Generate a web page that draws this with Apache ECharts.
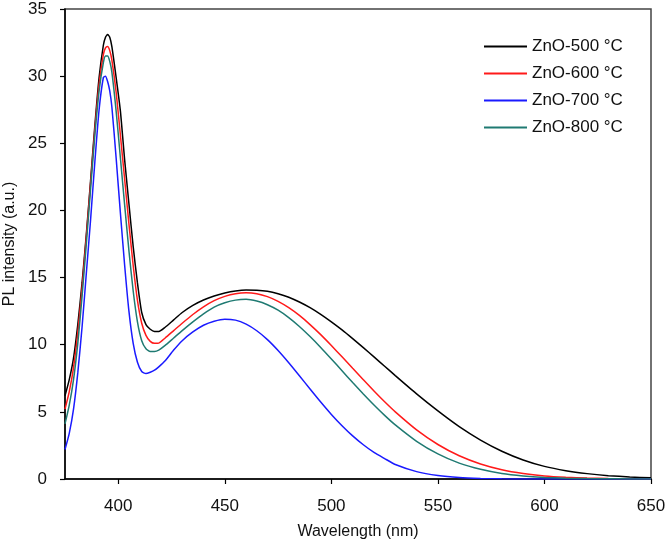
<!DOCTYPE html>
<html>
<head>
<meta charset="utf-8">
<script src="https://cdn.jsdelivr.net/npm/echarts@6/dist/echarts.min.js"></script>
<style>
html,body{margin:0;padding:0;background:#fff;}
#chart{width:666px;height:546px;}
</style>
</head>
<body>
<div id="chart"></div>
<script>
const wavelength = [375,377,379,381,383,385,387,389,391,393,394,395,396,397,399,401,403,405,407,409,411,413,415,417,419,422,426,430,435,440,445,450,455,460,465,470,475,480,485,490,495,500,505,510,515,520,525,530,540,550,560,570,580,590,600,610,620,630,640,650];

const zno500 = [6.2,7.4,9.0,11.5,14.6,18.2,22.2,26.3,29.9,32.3,
  32.9,33.1,32.9,32.2,29.9,27.4,23.75,20.5,17.3,14.6,
  12.4,11.5,11.15,10.98,10.98,11.3,11.85,12.4,12.93,13.33,
  13.63,13.85,14.0,14.07,14.06,13.98,13.8,13.54,13.18,12.76,
  12.26,11.7,11.1,10.45,9.78,9.09,8.4,7.7,6.34,5.07,
  3.9,2.9,2.07,1.42,0.94,0.62,0.4,0.25,0.15,0.09];

const zno600 = [5.2,6.5,8.3,10.9,14.2,18.0,22.0,26.0,29.4,31.6,
  32.1,32.2,31.9,31.2,28.8,25.6,22.3,19.0,15.9,13.3,
  11.6,10.7,10.25,10.1,10.12,10.5,11.05,11.6,12.25,12.82,
  13.28,13.6,13.8,13.87,13.8,13.58,13.23,12.76,12.18,11.5,
  10.75,9.94,9.1,8.24,7.39,6.55,5.75,5.0,3.66,2.57,
  1.73,1.12,0.69,0.41,0.23,0.13,0.07,0.035,0.017,0.008];

const zno700 = [2.2,3.4,5.2,7.9,11.3,15.3,19.3,23.6,27.5,29.9,
  30.0,29.6,28.9,27.7,23.9,19.8,15.9,12.5,10.1,8.7,
  8.0,7.85,7.95,8.1,8.35,8.8,9.6,10.3,10.95,11.45,
  11.75,11.9,11.83,11.53,11.04,10.38,9.57,8.66,7.69,6.7,
  5.73,4.81,3.97,3.21,2.55,1.98,1.52,1.08,0.55,0.26,
  0.11,0.045,0.015,0.005,0,0,0,0,0,0];

const zno800 = [4.1,5.5,7.4,10.1,13.6,17.5,21.6,25.6,28.9,31.0,
  31.5,31.5,31.1,30.3,27.4,23.9,20.4,17.0,14.0,11.7,
  10.3,9.7,9.5,9.5,9.6,9.95,10.5,11.05,11.7,12.3,
  12.8,13.12,13.32,13.38,13.25,12.98,12.57,12.02,11.36,10.61,
  9.8,8.94,8.06,7.18,6.33,5.51,4.74,4.03,2.81,1.87,
  1.18,0.72,0.41,0.23,0.12,0.06,0.03,0.015,0.007,0.003];

const seriesNames = ['ZnO-500 °C','ZnO-600 °C','ZnO-700 °C','ZnO-800 °C'];
const seriesColors = ['#000000','#ff1a1a','#1a1aff','#1f7a72'];
const seriesValues = [zno500, zno600, zno700, zno800];
const xTicks = [400,450,500,550,600,650];

const FONT = '"Liberation Sans", Arial, sans-serif';

const chart = echarts.init(document.getElementById('chart'), null, {renderer:'canvas'});
chart.setOption({
  animation: false,
  backgroundColor: '#fff',
  grid: {left: 65, right: 15, top: 9, bottom: 67, containLabel: false, outerBoundsMode: 'none',
         show: true, borderColor: '#444', borderWidth: 1.5, backgroundColor: 'transparent'},
  legend: {
    orient: 'vertical', left: 479, top: 33, itemWidth: 43, itemHeight: 2, itemGap: 10,
    icon: 'rect',
    textStyle: {fontFamily: FONT, fontSize: 17, color: '#111'},
    data: seriesNames
  },
  xAxis: {
    type: 'value', min: 375, max: 650,
    name: 'Wavelength (nm)', nameLocation: 'middle', nameGap: 45,
    nameTextStyle: {fontFamily: FONT, fontSize: 16, color: '#111'},
    axisLine: {lineStyle: {color: '#000', width: 1.5}},
    axisTick: {show: true, length: 5, lineStyle: {color: '#000', width: 1.2}, customValues: xTicks},
    axisLabel: {fontFamily: FONT, fontSize: 17, color: '#111', margin: 19, customValues: xTicks},
    splitLine: {show: false}
  },
  yAxis: {
    type: 'value', min: 0, max: 35, interval: 5,
    name: 'PL intensity (a.u.)', nameLocation: 'middle', nameGap: 45,
    nameTextStyle: {fontFamily: FONT, fontSize: 16, color: '#111'},
    axisLine: {show: true, lineStyle: {color: '#000', width: 1.5}},
    axisTick: {show: true, length: 5, lineStyle: {color: '#000', width: 1.2}},
    axisLabel: {fontFamily: FONT, fontSize: 17, color: '#111', margin: 18},
    splitLine: {show: false}
  },
  series: seriesNames.map((name, i) => ({
    name: name,
    type: 'line',
    showSymbol: false,
    symbol: 'none',
    smooth: 0.2,
    color: seriesColors[i],
    lineStyle: {color: seriesColors[i], width: 1.5},
    data: wavelength.map((w, j) => [w, seriesValues[i][j]])
  }))
});
</script>
</body>
</html>
